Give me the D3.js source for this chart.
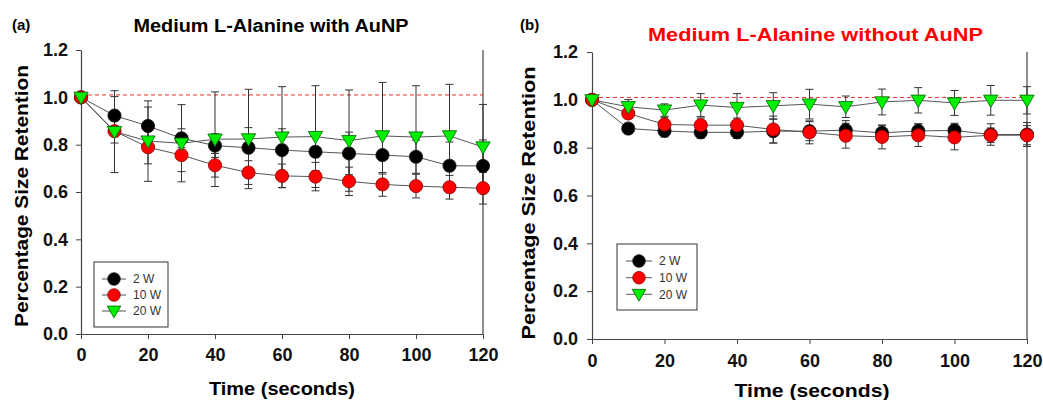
<!DOCTYPE html>
<html><head><meta charset="utf-8">
<script src="https://cdn.jsdelivr.net/npm/d3@7"></script>
<style>body{margin:0;background:#fff}svg{display:block}text{font-family:Arial,"Liberation Sans",sans-serif}</style>
</head><body><svg id="chart" width="1043" height="400"></svg>
<script>
const times = [0,10,20,30,40,50,60,70,80,90,100,110,120];
const seriesNames = ["2 W","10 W","20 W"];
const xTicks = [0,20,40,60,80,100,120];
const yTicks = [0.0,0.2,0.4,0.6,0.8,1.0,1.2];
const refLevel = 1.01;

// Panel (a): Medium L-Alanine with AuNP
const a2W  = [1.0,0.923,0.879,0.827,0.796,0.787,0.777,0.770,0.763,0.756,0.749,0.711,0.710];
const a10W = [1.0,0.857,0.789,0.756,0.713,0.682,0.668,0.665,0.645,0.632,0.625,0.620,0.616];
const a20W = [1.0,0.855,0.815,0.806,0.823,0.824,0.832,0.834,0.817,0.837,0.832,0.837,0.790];
const a2WErr  = [0,0.080,0.080,0.040,0.050,0.085,0.090,0.080,0.090,0.080,0.070,0.100,0.110];
const a10WErr = [0,0.050,0.070,0.070,0.050,0.050,0.050,0.060,0.060,0.050,0.050,0.050,0.067];
const a20WErr = [0,0.173,0.170,0.163,0.200,0.210,0.213,0.215,0.214,0.226,0.217,0.218,0.180];

// Panel (b): Medium L-Alanine without AuNP
const b2W  = [1.0,0.880,0.870,0.864,0.864,0.869,0.869,0.873,0.862,0.870,0.872,0.855,0.855];
const b10W = [1.0,0.943,0.897,0.894,0.894,0.876,0.864,0.850,0.845,0.852,0.843,0.852,0.852];
const b20W = [1.0,0.971,0.957,0.978,0.968,0.975,0.982,0.971,0.991,0.998,0.987,0.998,0.998];
const b2WErr  = [0,0.020,0.025,0.025,0.025,0.050,0.040,0.040,0.030,0.030,0.030,0.045,0.050];
const b10WErr = [0,0.020,0.030,0.030,0.030,0.056,0.048,0.052,0.050,0.047,0.052,0.030,0.040];
const b20WErr = [0,0.030,0.026,0.048,0.058,0.055,0.062,0.045,0.054,0.053,0.052,0.062,0.057];

const styles = [
  {shape:"circle", fill:"#000000", stroke:"#111"},
  {shape:"circle", fill:"#ff0000", stroke:"#8a0000"},
  {shape:"tri", fill:"#00ee00", stroke:"#006600"}
];

const svg = d3.select("#chart");

function marker(g, shape, cx, cy, st, s) {
  if (shape === "circle") {
    g.append("circle").attr("cx", cx).attr("cy", cy).attr("r", 6.6*s)
      .attr("fill", st.fill).attr("stroke", st.stroke).attr("stroke-width", 0.8);
  } else {
    const w = 7.2*s, h1 = 5.2*s, h2 = 7.2*s;
    g.append("path").attr("d", `M${cx-w},${cy-h1}L${cx+w},${cy-h1}L${cx},${cy+h2}Z`)
      .attr("fill", st.fill).attr("stroke", st.stroke).attr("stroke-width", 0.8);
  }
}

function panel(cfg) {
  const x = d3.scaleLinear().domain([0,120]).range([cfg.left, cfg.right]);
  const y = d3.scaleLinear().domain([0,1.2]).range([cfg.bottom, cfg.top]);
  const g = svg.append("g");

  // axes
  const ax = g.append("g").attr("transform", `translate(0,${cfg.bottom})`)
    .call(d3.axisBottom(x).tickValues(xTicks).tickSize(5).tickSizeOuter(0).tickPadding(cfg.xPad).tickFormat(d3.format("d")));
  const ay = g.append("g").attr("transform", `translate(${cfg.left},0)`)
    .call(d3.axisLeft(y).tickValues(yTicks).tickSize(5).tickSizeOuter(0).tickPadding(cfg.yPad).tickFormat(d3.format(".1f")));
  [ax, ay].forEach(a => {
    a.select(".domain").attr("stroke", "#444").attr("stroke-width", 1.2);
    a.selectAll(".tick line").attr("stroke", "#444");
    a.selectAll(".tick text").attr("font-size", cfg.tickFont).attr("font-weight", "bold")
      .attr("fill", "#111").attr("font-family", "Arial, 'Liberation Sans', sans-serif");
  });
  // right line
  g.append("line").attr("x1", cfg.right).attr("x2", cfg.right).attr("y1", cfg.top).attr("y2", cfg.bottom)
    .attr("stroke", "#444").attr("stroke-width", 1.2);

  // reference dashed line
  g.append("line").attr("x1", x(0)).attr("x2", x(120)).attr("y1", y(refLevel)).attr("y2", y(refLevel))
    .attr("stroke", "#e8302a").attr("stroke-width", 1).attr("stroke-dasharray", "4,3");

  const line = d3.line().x((d,i) => x(times[i])).y(d => y(d));
  cfg.series.forEach((vals, si) => {
    const errs = cfg.errs[si];
    // connecting line
    g.append("path").datum(vals).attr("d", line).attr("fill", "none")
      .attr("stroke", "#555").attr("stroke-width", 1);
    // error bars
    vals.forEach((v, i) => {
      if (!errs[i]) return;
      const cx = x(times[i]), y1 = y(v + errs[i]), y2 = y(v - errs[i]);
      g.append("line").attr("x1", cx).attr("x2", cx).attr("y1", y1).attr("y2", y2).attr("stroke", "#333").attr("stroke-width", 1);
      [y1, y2].forEach(yy => g.append("line").attr("x1", cx-4).attr("x2", cx+4).attr("y1", yy).attr("y2", yy)
        .attr("stroke", "#333").attr("stroke-width", 1));
    });
  });
  cfg.series.forEach((vals, si) => {
    vals.forEach((v, i) => marker(g, styles[si].shape, x(times[i]), y(v), styles[si], 1));
  });

  // legend
  const L = cfg.legend;
  g.append("rect").attr("x", L.x0).attr("y", L.y0).attr("width", L.x1 - L.x0).attr("height", L.y1 - L.y0)
    .attr("fill", "#fff").attr("stroke", "#333").attr("stroke-width", 1);
  seriesNames.forEach((name, si) => {
    const yy = L.rows[si];
    g.append("line").attr("x1", L.lx0).attr("x2", L.lx1).attr("y1", yy).attr("y2", yy).attr("stroke", "#555").attr("stroke-width", 1);
    marker(g, styles[si].shape, L.mx, yy, styles[si], 0.95);
    g.append("text").attr("x", L.tx).attr("y", yy).attr("dy", "0.35em").attr("font-size", 12)
      .attr("fill", "#333").text(name);
  });

  // titles
  g.append("text").attr("x", cfg.title.x).attr("y", cfg.title.y).attr("text-anchor", "middle")
    .attr("font-size", cfg.title.size).attr("font-weight", "bold").attr("fill", cfg.title.color)
    .attr("textLength", cfg.title.len).attr("lengthAdjust", "spacingAndGlyphs").text(cfg.title.text);
  g.append("text").attr("x", cfg.label.x).attr("y", cfg.label.y).attr("font-size", 15)
    .attr("font-weight", "bold").attr("fill", "#000").text(cfg.label.text);
  g.append("text").attr("x", (cfg.left + cfg.right)/2 + cfg.xt.dx).attr("y", cfg.xt.y).attr("text-anchor", "middle")
    .attr("font-size", cfg.xt.size).attr("font-weight", "bold").attr("fill", "#000")
    .attr("textLength", cfg.xt.len).attr("lengthAdjust", "spacingAndGlyphs").text("Time (seconds)");
  g.append("text").attr("transform", `translate(${cfg.yt.x},${cfg.yt.cy}) rotate(-90)`).attr("text-anchor", "middle")
    .attr("font-size", cfg.yt.size).attr("font-weight", "bold").attr("fill", "#000")
    .attr("textLength", cfg.yt.len).attr("lengthAdjust", "spacingAndGlyphs").text("Percentage Size Retention");
}

panel({
  left: 81, right: 483, top: 50, bottom: 334, xPad: 9, yPad: 8, tickFont: 18,
  series: [a2W, a10W, a20W], errs: [a2WErr, a10WErr, a20WErr],
  legend: {x0: 94, x1: 168, y0: 262, y1: 327, rows: [279, 295, 311], lx0: 102, lx1: 126, mx: 114, tx: 133},
  title: {x: 271, y: 32, size: 18, color: "#000", len: 275, text: "Medium L-Alanine with AuNP"},
  label: {x: 12, y: 30, text: "(a)"},
  xt: {dx: 0, y: 395, size: 18, len: 146},
  yt: {x: 28, cy: 196, size: 18, len: 262}
});
panel({
  left: 592, right: 1027, top: 52, bottom: 339, xPad: 10, yPad: 9, tickFont: 18,
  series: [b2W, b10W, b20W], errs: [b2WErr, b10WErr, b20WErr],
  legend: {x0: 617, x1: 697, y0: 244, y1: 310, rows: [261, 277.7, 294.3], lx0: 626, lx1: 652, mx: 639, tx: 659},
  title: {x: 815.5, y: 41, size: 18, color: "#ff0000", len: 335, text: "Medium L-Alanine without AuNP"},
  label: {x: 520, y: 30, text: "(b)"},
  xt: {dx: 2.5, y: 397, size: 19, len: 155},
  yt: {x: 535, cy: 203, size: 19, len: 273}
});
</script></body></html>
